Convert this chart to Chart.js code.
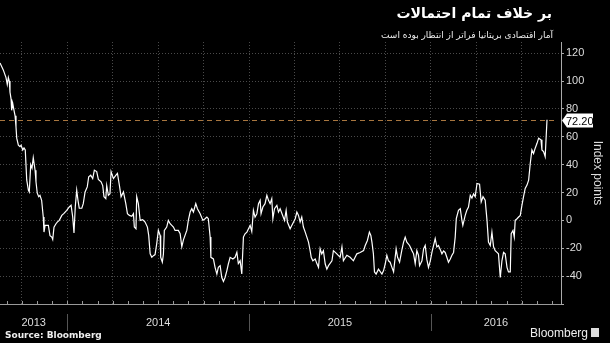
<!DOCTYPE html>
<html>
<head>
<meta charset="utf-8">
<script src="https://cdn.jsdelivr.net/npm/chart.js@4.4.1/dist/chart.umd.min.js"></script>
<style>
  body { margin: 0; background: #000; }
  #wrap { position: relative; width: 610px; height: 343px; overflow: hidden; background: #000; }
  #myChart { position: absolute; left: 0; top: 0; }
  .txt { position: absolute; color: #fff; white-space: nowrap; }
  #title { right: 58px; top: 5px; direction: rtl; font: bold 14px "DejaVu Sans", sans-serif; }
  #subtitle { right: 57px; top: 30px; direction: rtl; font: 9px "DejaVu Sans", sans-serif; color: #eee; }
  #source { left: 5px; top: 330px; font: bold 9px "DejaVu Sans", sans-serif; color: #eee; }
  #logo { right: 22px; top: 326px; font: 12px "Liberation Sans", Arial, sans-serif; color: #eee; }
  #logoBox { position: absolute; right: 11px; top: 328px; width: 8px; height: 9px; background: #ddd; }
</style>
</head>
<body>
<div id="wrap">
  <canvas id="myChart" width="610" height="343"></canvas>
  <div class="txt" id="title">بر خلاف تمام احتمالات</div>
  <div class="txt" id="subtitle">آمار اقتصادی بریتانیا فراتر از انتظار بوده است</div>
  <div class="txt" id="source">Source: Bloomberg</div>
  <div class="txt" id="logo">Bloomberg</div>
  <div id="logoBox"></div>
</div>
<script>
// dates as decimal years, values in index points
let dates = [
  2013.630, 2013.648, 2013.663, 2013.670, 2013.676, 2013.681, 2013.685, 2013.691, 2013.694, 2013.700,
  2013.707, 2013.713, 2013.718, 2013.722, 2013.731, 2013.740, 2013.746, 2013.755, 2013.762, 2013.769,
  2013.777, 2013.786, 2013.791, 2013.799, 2013.806, 2013.813, 2013.823, 2013.828, 2013.835, 2013.843,
  2013.850, 2013.859, 2013.868, 2013.872, 2013.878, 2013.896, 2013.905, 2013.915, 2013.920, 2013.927,
  2013.938, 2013.945, 2013.956, 2013.970, 2013.982, 2013.997, 2014.011, 2014.021, 2014.030, 2014.037,
  2014.044, 2014.052, 2014.059, 2014.066, 2014.080, 2014.088, 2014.098, 2014.110, 2014.118, 2014.129,
  2014.140, 2014.149, 2014.162, 2014.171, 2014.186, 2014.195, 2014.202, 2014.212, 2014.217, 2014.226,
  2014.235, 2014.241, 2014.254, 2014.268, 2014.276, 2014.287, 2014.296, 2014.309, 2014.322, 2014.331,
  2014.342, 2014.355, 2014.364, 2014.369, 2014.378, 2014.382, 2014.391, 2014.401, 2014.415, 2014.428,
  2014.441, 2014.448, 2014.456, 2014.465, 2014.474, 2014.483, 2014.492, 2014.501, 2014.511, 2014.514,
  2014.523, 2014.529, 2014.534, 2014.547, 2014.556, 2014.566, 2014.575, 2014.584, 2014.593, 2014.611,
  2014.621, 2014.630, 2014.639, 2014.658, 2014.666, 2014.676, 2014.685, 2014.694, 2014.707, 2014.716,
  2014.731, 2014.746, 2014.758, 2014.768, 2014.776, 2014.786, 2014.790, 2014.804, 2014.813, 2014.823,
  2014.831, 2014.841, 2014.850, 2014.859, 2014.868, 2014.878, 2014.886, 2014.896, 2014.911, 2014.923,
  2014.933, 2014.941, 2014.951, 2014.960, 2014.969, 2014.978, 2014.988, 2014.997, 2015.006, 2015.015,
  2015.024, 2015.033, 2015.043, 2015.052, 2015.061, 2015.066, 2015.076, 2015.088, 2015.098, 2015.107,
  2015.116, 2015.125, 2015.131, 2015.140, 2015.153, 2015.162, 2015.171, 2015.195, 2015.204, 2015.211,
  2015.226, 2015.235, 2015.254, 2015.263, 2015.272, 2015.281, 2015.290, 2015.299, 2015.309, 2015.318,
  2015.327, 2015.336, 2015.342, 2015.351, 2015.364, 2015.373, 2015.382, 2015.391, 2015.400, 2015.409,
  2015.419, 2015.428, 2015.437, 2015.456, 2015.464, 2015.483, 2015.501, 2015.511, 2015.519, 2015.538,
  2015.556, 2015.574, 2015.593, 2015.611, 2015.630, 2015.639, 2015.651, 2015.662, 2015.670, 2015.676,
  2015.684, 2015.690, 2015.699, 2015.712, 2015.731, 2015.740, 2015.749, 2015.758, 2015.767, 2015.776,
  2015.786, 2015.795, 2015.800, 2015.809, 2015.817, 2015.828, 2015.841, 2015.850, 2015.859, 2015.868,
  2015.883, 2015.896, 2015.905, 2015.914, 2015.923, 2015.932, 2015.938, 2015.951, 2015.960, 2015.969,
  2015.978, 2015.987, 2015.997, 2016.006, 2016.024, 2016.033, 2016.042, 2016.052, 2016.061, 2016.070,
  2016.079, 2016.088, 2016.097, 2016.107, 2016.116, 2016.125, 2016.134, 2016.140, 2016.152, 2016.162,
  2016.171, 2016.176, 2016.189, 2016.198, 2016.207, 2016.217, 2016.226, 2016.235, 2016.244, 2016.254,
  2016.268, 2016.277, 2016.287, 2016.299, 2016.309, 2016.317, 2016.327, 2016.336, 2016.345, 2016.354,
  2016.364, 2016.372, 2016.382, 2016.391, 2016.400, 2016.409, 2016.419, 2016.427, 2016.437, 2016.442,
  2016.452, 2016.459, 2016.464, 2016.474, 2016.483, 2016.492, 2016.501, 2016.510, 2016.519, 2016.529,
  2016.538, 2016.547, 2016.556, 2016.565, 2016.574, 2016.584, 2016.593, 2016.606, 2016.611, 2016.620,
  2016.629, 2016.639
]
let values = [
  113, 108, 102.5, 97.5, 102.5, 100, 92, 87, 79, 84,
  79, 75, 67, 59, 54, 53, 54, 50.5, 52, 50.5,
  29, 21.7, 20.4, 40, 37.5, 45, 36, 27.7, 19.5, 17,
  18, 14.4, 2.4, -8.4, -3.6, -3.6, -11, -12, -13.7, -4.8,
  -2.4, -1.2, 0, 3.6, 5, 7.2, 9.6, 10.8, 2.4, -9,
  9.6, 21.7, 14.4, 8.7, 8.7, 12, 20.4, 24, 31.3, 32.5,
  30, 36, 35, 29.4, 27.7, 25, 17, 15.6, 25, 18,
  19.2, 35, 30, 32.5, 33.7, 25, 17, 20.4, 12, 4.8,
  3.6, 2.9, 4.8, -4.8, -6, 17, 12, 0, 0.5, -1.2,
  -4.8, -10.8, -24, -26.5, -25.3, -24.5, -16.8, -7.2, -10.8, -26.5,
  -30, -24, -7.2, -4.8, 0, -2.4, -3.6, -4.8, -7.2, -7.2,
  -9.6, -19, -14, -7, 0, 6, 8.4, 6, 12, 8.4,
  4.8, 0, 1.2, 2.4, 1.2, -12, -26.5, -27.7, -33.7, -38.5,
  -33.7, -32.5, -41, -43.8, -41, -36, -31.3, -26.5, -27.7, -26.5,
  -22.9, -31, -29, -38.5, -12, -9.6, -8.4, -6, -3.6, -8,
  7.2, 2.4, 4.8, 12, 14.4, 4.8, 9.6, 12, 18, 14.4,
  12, 15.6, 1.2, 8.4, 10.8, 6, 8.4, 0, 7.2, -1.2,
  -6, -3.6, 1.2, 6, 3.6, -1.2, 2.4, -4.8, -8.4, -12,
  -15.6, -21.7, -26.5, -29, -27.7, -31, -33.7, -20.4, -24, -21.7,
  -31.3, -35, -32.5, -29, -21.7, -24, -26.5, -19, -29, -25,
  -26.5, -29, -24, -23, -21.7, -18, -14.4, -8.4, -10.8, -15.6,
  -24, -37, -38.5, -35, -38.5, -36, -31.3, -25, -29, -30,
  -33.7, -37, -31, -20.4, -26.5, -30, -21, -15.6, -12, -15.6,
  -18, -21.7, -24, -31, -21.7, -25, -32.5, -29, -20.4, -18,
  -28, -33.7, -29, -23, -13, -19, -18, -21, -24, -22,
  -23, -26.5, -30, -27.7, -25, -23, -12, 1.2, 7.2, 8.4,
  0, -3.6, 3.6, 7.2, 9.6, 18, 16, 19, 17, 26.5,
  26, 13.2, 17, 14.4, 0, -15.6, -18, -8.4, -19, -21.7,
  -23, -24, -41, -29, -23, -24, -33.7, -37, -37, -9.6,
  -7.2, -12, 0, 1.2, 2.4, 3.6, 10.8, 17, 22.9, 25.3,
  28.9, 41, 50.5, 48, 51.8, 55.3, 59, 57.8, 50.5, 49.3,
  45.7, 72.2
]
let gridDates = [2013.75, 2014, 2014.25, 2014.5, 2014.75, 2015, 2015.25, 2015.5, 2015.75, 2016, 2016.25, 2016.5]
let yearLabels = [2013, 2014, 2015, 2016]
let yTicks = [-60, -50, -40, -30, -20, -10, 0, 10, 20, 30, 40, 50, 60, 70, 80, 90, 100, 110, 120]

let points = dates.map((d, i) => ({x: d, y: values[i]}))
let last = values[values.length - 1]

let extras = {
  id: 'extras',
  afterDraw(chart) {
    let c = chart.ctx
    let xs = chart.scales.x
    let ys = chart.scales.y
    let area = chart.chartArea
    c.save()
    // month ticks on the bottom axis
    c.strokeStyle = '#999'
    c.lineWidth = 1
    for (let m = Math.ceil(xs.min * 12); m <= Math.floor(xs.max * 12); m++) {
      let px = Math.round(xs.getPixelForValue(m / 12)) + 0.5
      c.beginPath()
      c.moveTo(px, area.bottom)
      c.lineTo(px, area.bottom - 3)
      c.stroke()
    }
    // year separators and labels
    c.strokeStyle = '#555'
    c.fillStyle = '#ddd'
    c.font = '11px "Liberation Sans", Arial, sans-serif'
    c.textAlign = 'center'
    c.textBaseline = 'middle'
    yearLabels.forEach(yr => {
      let a = Math.max(area.left, xs.getPixelForValue(yr))
      let b = Math.min(area.right, xs.getPixelForValue(yr + 1))
      if (yr > xs.min) {
        let px = Math.round(a) + 0.5
        c.beginPath()
        c.moveTo(px, 314)
        c.lineTo(px, 331)
        c.stroke()
      }
      c.fillText(String(yr), (a + b) / 2, 323)
    })
    // last value line and label
    let py = Math.round(ys.getPixelForValue(last)) + 0.5
    c.strokeStyle = '#a8763f'
    c.setLineDash([5, 4])
    c.beginPath()
    c.moveTo(area.left, py)
    c.lineTo(area.right - 4, py)
    c.stroke()
    c.setLineDash([])
    let bx = area.right + 1
    c.fillStyle = '#fff'
    c.beginPath()
    c.moveTo(bx, py)
    c.lineTo(bx + 5, py - 7)
    c.lineTo(bx + 31, py - 7)
    c.lineTo(bx + 31, py + 7)
    c.lineTo(bx + 5, py + 7)
    c.closePath()
    c.fill()
    c.fillStyle = '#000'
    c.textAlign = 'left'
    c.font = '11px "Liberation Sans", Arial, sans-serif'
    c.fillText(last.toFixed(2), bx + 4, py + 1)
    c.restore()
  }
}

let ctx = document.querySelector('#myChart')
let myChart = new Chart(ctx, {
  type: 'line',
  data: {
    datasets: [{
      data: points,
      borderColor: '#fff',
      borderWidth: 1.2,
      pointRadius: 0,
      fill: false,
      tension: 0
    }]
  },
  options: {
    responsive: false,
    animation: false,
    layout: {padding: {top: 42, bottom: 39, left: 0, right: 0}},
    plugins: {legend: {display: false}, tooltip: {enabled: false}},
    scales: {
      x: {
        type: 'linear',
        min: 2013.63,
        max: 2016.716,
        afterBuildTicks: s => { s.ticks = gridDates.map(v => ({value: v})) },
        afterFit: s => { s.height = 0 },
        ticks: {display: false},
        grid: {color: '#4a4a4a', drawTicks: false},
        border: {display: true, color: '#999', dash: [1, 2]}
      },
      y: {
        position: 'right',
        min: -60,
        max: 128,
        afterBuildTicks: s => { s.ticks = yTicks.map(v => ({value: v})) },
        afterFit: s => { s.width = 49 },
        ticks: {
          color: '#ddd',
          padding: 2,
          font: {family: '"Liberation Sans", Arial, sans-serif', size: 11},
          callback: v => (v % 20 === 0 && v > -60) ? String(v) : ''
        },
        grid: {
          color: c => (c.tick && c.tick.value % 20 === 0 && c.tick.value > -60) ? '#4a4a4a' : 'rgba(0,0,0,0)',
          tickLength: 3,
          tickColor: '#aaa',
          tickBorderDash: []
        },
        border: {display: true, color: '#aaa', dash: [1, 2]},
        title: {
          display: true,
          text: 'Index points',
          color: '#ddd',
          padding: {top: 5, bottom: 0},
          font: {family: '"Liberation Sans", Arial, sans-serif', size: 12}
        }
      }
    }
  },
  plugins: [extras]
})
</script>
</body>
</html>
